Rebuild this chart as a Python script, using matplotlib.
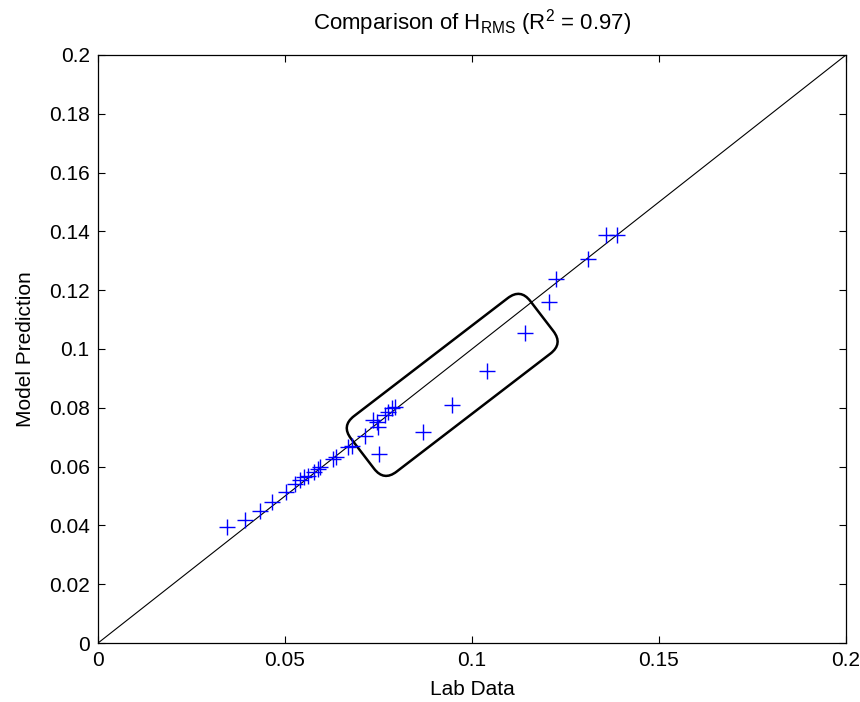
import numpy as np
import matplotlib
matplotlib.use("Agg")
import matplotlib.pyplot as plt
from matplotlib.patches import FancyBboxPatch
from matplotlib.transforms import Affine2D, IdentityTransform

plt.rcParams['font.family'] = ['Liberation Sans', 'DejaVu Sans']
plt.rcParams['mathtext.fontset'] = 'custom'
plt.rcParams['mathtext.rm'] = 'Liberation Sans'

# lab data vs model prediction
lab_data = [0.0345, 0.0393, 0.0433, 0.0465, 0.0503, 0.0527, 0.0540, 0.0551,
            0.0561, 0.0578, 0.0588, 0.0594, 0.0628, 0.0636, 0.0668, 0.0679,
            0.0714, 0.0735, 0.0746, 0.0749, 0.0767, 0.0775, 0.0786, 0.0794,
            0.0751, 0.0869, 0.0947, 0.1040, 0.1142, 0.1206, 0.1225, 0.1310,
            0.1358, 0.1388]
model_pred = [0.0395, 0.0418, 0.0449, 0.0480, 0.0514, 0.0541, 0.0554, 0.0565,
              0.0568, 0.0582, 0.0592, 0.0599, 0.0626, 0.0633, 0.0667, 0.0670,
              0.0704, 0.0759, 0.0752, 0.0735, 0.0776, 0.0786, 0.0799, 0.0803,
              0.0643, 0.0718, 0.0810, 0.0925, 0.1054, 0.1160, 0.1238, 0.1306,
              0.1388, 0.1388]
x_ticks = [0, 0.05, 0.1, 0.15, 0.2]
y_ticks = [0, 0.02, 0.04, 0.06, 0.08, 0.1, 0.12, 0.14, 0.16, 0.18, 0.2]
box_center = (0.0947, 0.0878)

fig = plt.figure(figsize=(8.6, 7.02), dpi=100)
ax = fig.add_axes([0.114, 0.084, 0.8697, 0.8377])

ax.plot([0, 0.2], [0, 0.2], color='black', lw=0.8)
ax.plot(lab_data, model_pred, '+', color='blue', markersize=11, mew=1.0)

ax.set_xlim(0, 0.2)
ax.set_ylim(0, 0.2)
ax.set_xticks(x_ticks)
ax.set_xticklabels(['0', '0.05', '0.1', '0.15', '0.2'])
ax.set_yticks(y_ticks)
ax.set_yticklabels(['0', '0.02', '0.04', '0.06', '0.08', '0.1', '0.12',
                    '0.14', '0.16', '0.18', '0.2'])
ax.tick_params(direction='in', top=True, right=True, labelsize=15, length=5, pad=6)
for s in ax.spines.values():
    s.set_linewidth(0.9)

ax.set_xlabel('Lab Data', fontsize=15, labelpad=7)
ax.set_ylabel('Model Prediction', fontsize=15, labelpad=10)
ax.set_title(r'Comparison of H$_{\mathrm{RMS}}$ (R$^2$ = 0.97)', fontsize=16, pad=18)

# rounded box around the outliers, built in display pixels
cx, cy = ax.transData.transform(box_center)
w, h = 226, 70
box = FancyBboxPatch((cx - w / 2, cy - h / 2), w, h,
                     boxstyle='round,pad=0,rounding_size=16',
                     fill=False, ec='black', lw=1.8,
                     transform=Affine2D().rotate_deg_around(cx, cy, 37.5) + IdentityTransform())
ax.add_artist(box)

fig.savefig('out.png', dpi=100)
